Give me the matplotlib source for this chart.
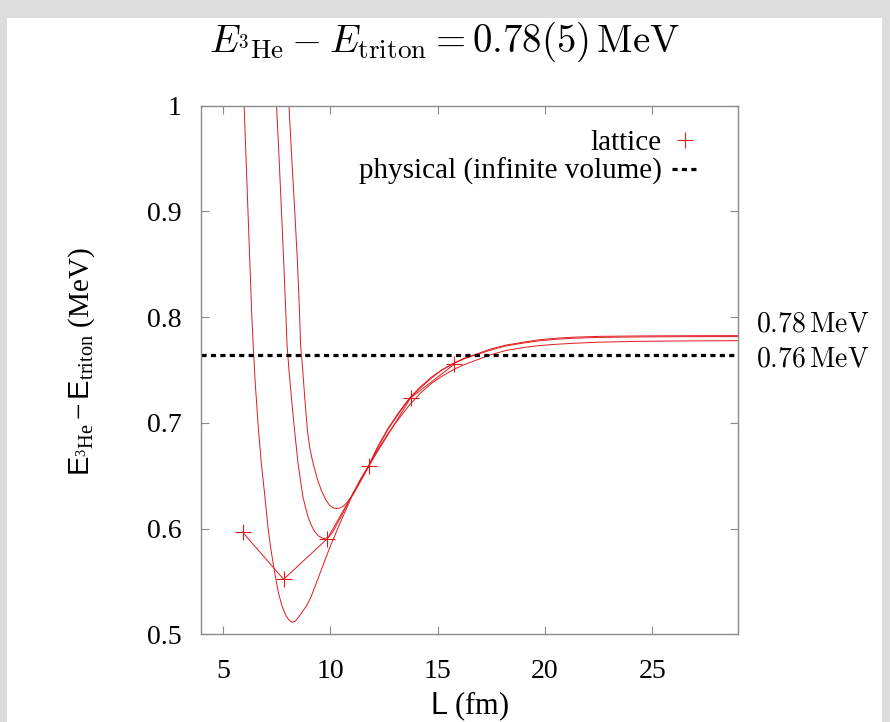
import matplotlib
matplotlib.use('Agg')
import matplotlib.pyplot as plt
from matplotlib.lines import Line2D
from matplotlib.patches import Rectangle

plt.rcParams['font.family'] = ['Liberation Serif', 'DejaVu Serif']
plt.rcParams['mathtext.fontset'] = 'custom'
plt.rcParams['mathtext.rm'] = 'Liberation Serif'
plt.rcParams['mathtext.it'] = 'Liberation Serif:italic'
plt.rcParams['mathtext.sf'] = 'Liberation Sans'

# lattice results, L = N * a with a = 1.97 fm
L_lat = [5.92, 7.83, 9.87, 11.80, 13.75, 15.78]
dE_lat = [0.5966, 0.552, 0.5905, 0.6595, 0.7236, 0.7554]

# physical (infinite volume) splitting
E_phys = 0.764
E_inf = 0.78

# finite-volume fits
L_fit1 = [5.99, 6.08, 6.17, 6.26, 6.35, 6.41, 6.50, 6.66, 6.80, 6.96, 7.11, 7.24,
          7.40, 7.58, 7.75, 7.93, 8.10, 8.22, 8.38, 8.52, 8.66, 8.90, 9.12, 9.40,
          9.70, 10.0, 10.5, 11.0, 11.4, 11.8, 12.2, 12.7, 13.2, 13.7, 14.2, 14.7,
          15.2, 15.8, 16.3, 16.9, 17.5, 18.2, 19.0, 19.7, 20.5, 21.3, 22.5, 24.4,
          26.5, 29.0]
dE_fit1 = [1.00, 0.95, 0.90, 0.85, 0.80, 0.775, 0.74, 0.693, 0.660, 0.630, 0.600, 0.580,
           0.560, 0.540, 0.527, 0.518, 0.513, 0.5113, 0.5125, 0.516, 0.520, 0.527, 0.536, 0.551,
           0.567, 0.583, 0.607, 0.630, 0.646, 0.660, 0.677, 0.695, 0.710, 0.7235, 0.734, 0.743,
           0.750, 0.757, 0.7615, 0.7657, 0.770, 0.7736, 0.7763, 0.7785, 0.780, 0.781, 0.7818, 0.7822,
           0.7824, 0.7825]

L_fit2 = [7.50, 7.62, 7.73, 7.84, 7.94, 7.99, 8.08, 8.19, 8.34, 8.50, 8.62, 8.73,
          8.85, 8.97, 9.10, 9.25, 9.45, 9.70, 9.90, 10.1, 10.5, 11.0, 11.4, 11.8,
          12.2, 12.7, 13.2, 13.7, 14.2, 14.7, 15.2, 15.8, 16.3, 16.9, 17.5, 18.2,
          19.0, 19.7, 20.5, 21.3, 22.5, 24.4, 26.5, 29.0]
dE_fit2 = [1.00, 0.95, 0.90, 0.85, 0.80, 0.7736, 0.75, 0.7247, 0.693, 0.662, 0.645, 0.630,
           0.620, 0.611, 0.604, 0.598, 0.593, 0.5905, 0.5915, 0.596, 0.611, 0.631, 0.646, 0.659,
           0.676, 0.694, 0.709, 0.7230, 0.733, 0.742, 0.750, 0.7565, 0.761, 0.765, 0.769, 0.7728,
           0.7755, 0.7775, 0.779, 0.780, 0.7808, 0.7813, 0.7815, 0.7816]

L_fit3 = [8.08, 8.21, 8.35, 8.48, 8.58, 8.62, 8.72, 8.81, 8.94, 9.05, 9.20, 9.40,
          9.59, 9.80, 9.97, 10.15, 10.29, 10.45, 10.6, 10.8, 11.06, 11.4, 11.8, 12.2,
          12.7, 13.2, 13.7, 14.2, 14.7, 15.2, 15.8, 16.3, 16.9, 17.5, 18.2, 19.0,
          19.7, 20.5, 21.3, 22.5, 24.4, 26.5, 29.0]
dE_fit3 = [1.00, 0.95, 0.90, 0.85, 0.80, 0.7736, 0.75, 0.725, 0.693, 0.676, 0.662, 0.647,
           0.636, 0.627, 0.622, 0.6195, 0.619, 0.6195, 0.621, 0.625, 0.632, 0.644, 0.659, 0.674,
           0.690, 0.704, 0.717, 0.728, 0.737, 0.744, 0.751, 0.7555, 0.760, 0.7645, 0.7685, 0.7712,
           0.773, 0.7743, 0.7752, 0.7763, 0.7771, 0.7775, 0.7777]

x_ticks = [5, 10, 15, 20, 25]
y_ticks = [0.5, 0.6, 0.7, 0.8, 0.9, 1.0]
y_ticklabels = ['0.5', '0.6', '0.7', '0.8', '0.9', '1']

red = '#e31a1c'
grey = '#8a8a8a'

fig = plt.figure(figsize=(8.9, 7.22), dpi=100, facecolor='#dcdcdc')
fig.patches.append(Rectangle((7 / 890, 0), 875 / 890, 704 / 722, transform=fig.transFigure,
                             facecolor='white', edgecolor='none', zorder=-10))
ax = fig.add_axes([0.2263, 0.1215, 0.6029, 0.7321])
ax.set_facecolor('white')

for xs, ys in [(L_fit1, dE_fit1), (L_fit2, dE_fit2), (L_fit3, dE_fit3)]:
    ax.plot(xs, ys, color=red, lw=0.7, solid_joinstyle='round')

ax.plot(L_lat, dE_lat, color=red, lw=0.7, marker='+', ms=12, mew=0.8)
ax.axhline(E_phys, color='black', lw=2.3, linestyle=(0, (1.6, 1.35)))

ax.set_xlim(4, 29)
ax.set_ylim(0.5, 1.0)
ax.set_xticks(x_ticks)
ax.set_yticks(y_ticks)
ax.set_yticklabels(y_ticklabels)
ax.tick_params(direction='in', top=True, right=True, length=6, width=0.8, color=grey,
               labelsize=20)
ax.tick_params(axis='x', pad=18)
ax.tick_params(axis='y', pad=14)
for sp in ax.spines.values():
    sp.set_color(grey)
    sp.set_linewidth(1.0)

ax.set_xlabel(r'$\mathsf{L}$ (fm)', fontsize=22, va='center')
ax.xaxis.set_label_coords(0.5, -0.1356)
ax.set_ylabel(r'$\mathsf{E}_{^{3}\mathrm{He}} - \mathsf{E}_{\mathrm{triton}}$ (MeV)',
              fontsize=21, va='center')
ax.yaxis.set_label_coords(-0.2225, 0.515)

# legend in gnuplot style: text first, key on the right
handles = [Line2D([], [], color=red, marker='+', ms=12, mew=0.8, linestyle='none'),
           Line2D([], [], color='black', lw=2.3, linestyle=(0, (1.6, 1.35)))]
ax.legend(handles, ['lattice', 'physical (infinite volume)'], loc='upper right',
          bbox_to_anchor=(0.9236, 0.954), frameon=False, markerfirst=False,
          fontsize=21, handlelength=0.85, handletextpad=0.35, labelspacing=0.05,
          borderpad=0, borderaxespad=0)

# values on the right of the frame
ax.text(1.0336, 0.7925, r'$%.2f\,\mathrm{MeV}$' % E_inf, transform=ax.get_yaxis_transform(),
        math_fontfamily='cm', fontsize=20, ha='left', va='center')
ax.text(1.0336, 0.7594, r'$%.2f\,\mathrm{MeV}$' % E_phys, transform=ax.get_yaxis_transform(),
        math_fontfamily='cm', fontsize=20, ha='left', va='center')

fig.text(444 / 890, 1 - 42 / 722,
         r'$E_{{}^{3}\mathrm{He}} - E_{\mathrm{triton}} = 0.78(5)\,\mathrm{MeV}$',
         math_fontfamily='cm', fontsize=28, ha='center', va='center')

fig.savefig('out.png', dpi=100, facecolor=fig.get_facecolor())
